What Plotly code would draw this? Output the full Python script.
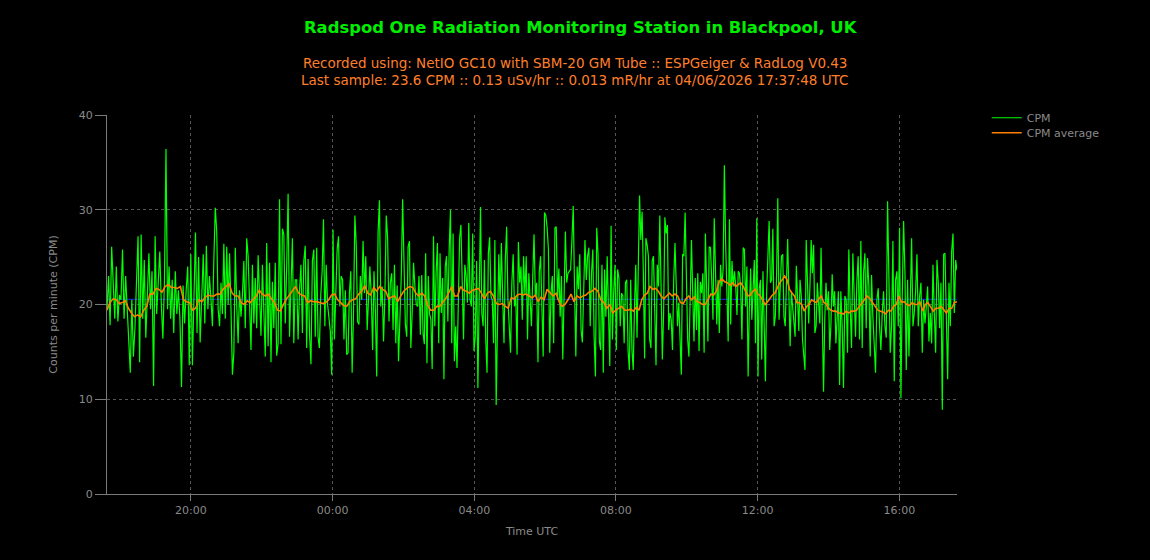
import pandas as pd
import plotly.graph_objects as go

# ---- data ----
block_edges = ["2026-06-03 17:37:48", "2026-06-03 20:34", "2026-06-03 23:33",
               "2026-06-04 02:31", "2026-06-04 05:28", "2026-06-04 08:25",
               "2026-06-04 11:23", "2026-06-04 14:21", "2026-06-04 17:37:48"]

cpm_b1 = [19.5, 23.0, 17.8, 26.1, 22.3, 18.5, 24.0, 18.2, 21.0, 20.5, 25.8, 18.5, 23.0, 19.5, 16.0, 12.8, 20.5, 14.5, 17.5, 22.0, 27.2, 13.9, 27.4, 18.5, 24.7, 16.5, 22.0, 25.4, 19.5, 23.5, 11.4, 27.2, 19.0, 23.0, 25.6, 20.0, 16.4, 22.5, 36.4, 19.5, 24.0, 18.5, 22.6, 17.0, 23.5, 19.0, 21.5, 18.5, 11.3, 22.0, 18.0, 21.5, 24.0, 13.6, 25.3, 13.6, 22.0, 27.6, 17.0, 25.0, 16.0, 21.5, 25.3, 18.0, 26.2, 19.5, 23.0]
cpm_b2 = [20.5, 17.7, 24.8, 30.2, 27.7, 19.5, 17.7, 22.3, 19.0, 26.4, 18.5, 26.1, 20.0, 25.4, 19.5, 12.6, 14.9, 26.0, 20.0, 15.9, 21.5, 18.7, 21.0, 24.6, 17.5, 27.0, 25.1, 18.5, 15.2, 24.2, 18.0, 22.8, 17.5, 25.2, 20.0, 16.7, 24.2, 19.0, 14.5, 26.5, 15.6, 24.4, 13.9, 22.4, 17.5, 24.4, 14.6, 15.9, 31.1, 15.8, 28.0, 27.4, 18.0, 24.0, 31.7, 16.6, 22.0, 27.0, 15.9, 22.6, 22.6, 16.3, 21.5, 24.2, 17.0, 24.6, 26.2, 15.4, 24.8, 16.9, 13.7, 24.6, 25.8, 16.6]
cpm_b3 = [26.0, 16.6, 15.4, 21.0, 23.5, 29.0, 17.7, 24.2, 20.0, 18.2, 17.2, 12.6, 27.9, 16.3, 22.0, 25.8, 27.2, 19.8, 23.0, 22.6, 16.3, 21.5, 14.7, 14.9, 21.2, 23.5, 12.8, 19.1, 29.4, 26.3, 18.2, 17.9, 23.0, 20.5, 26.7, 21.2, 25.1, 17.3, 20.5, 24.0, 21.0, 15.2, 23.5, 19.5, 12.4, 27.6, 31.0, 19.8, 21.9, 16.1, 20.9, 29.4, 27.0, 18.2, 22.3, 23.3, 17.3, 24.2, 15.9, 22.0, 14.0, 18.9, 23.0, 31.1, 24.4, 17.9, 16.6, 26.1, 26.7, 15.4, 19.1, 24.4, 21.9, 20.0, 19.8, 23.0, 16.8]
cpm_b4 = [23.1, 17.0, 15.8, 25.4, 13.8, 23.0, 19.0, 18.4, 13.2, 27.2, 17.7, 23.3, 26.5, 15.9, 25.4, 19.1, 22.8, 12.1, 24.0, 25.1, 18.2, 25.8, 30.0, 15.9, 27.5, 14.0, 17.7, 13.3, 19.8, 27.0, 28.4, 23.0, 16.3, 24.2, 23.0, 20.2, 28.6, 20.5, 19.8, 27.5, 15.1, 16.6, 24.6, 11.2, 22.3, 30.3, 19.1, 17.7, 24.7, 16.3, 12.8, 25.4, 27.1, 20.9, 20.5, 15.9, 26.8, 9.4, 17.7, 25.3, 20.2, 26.5, 20.5, 15.9, 24.7, 28.2, 20.5, 17.7, 14.9, 22.3, 25.3, 19.8, 20.9, 14.7, 26.6, 22.3, 24.0, 18.4, 25.1, 21.0]
cpm_b5 = [25.1, 16.3, 23.3, 20.5, 17.7, 23.0, 27.4, 20.9, 22.3, 13.9, 23.5, 25.1, 20.5, 14.5, 29.7, 29.4, 28.1, 25.8, 14.9, 21.2, 23.0, 15.9, 28.1, 28.2, 20.5, 23.8, 18.7, 23.0, 14.2, 20.9, 27.7, 22.3, 23.3, 23.5, 23.7, 26.8, 30.4, 21.6, 14.5, 24.0, 21.6, 25.3, 17.3, 16.0, 21.6, 26.8, 22.6, 25.1, 26.0, 17.7, 23.3, 25.8, 16.6, 12.4, 28.1, 25.3, 16.1, 15.2, 24.2, 12.8, 23.7, 18.7, 25.1, 18.2, 13.5, 28.3, 16.3, 21.4, 24.2, 15.2, 23.7, 22.8, 17.7, 21.2, 20.9, 15.9, 22.3, 22.6, 15.1, 13.1]
cpm_b6 = [22.6, 15.2, 13.1, 19.8, 24.2, 16.5, 22.3, 31.5, 26.8, 29.8, 23.3, 14.3, 27.0, 26.3, 25.1, 16.3, 15.4, 24.6, 25.1, 17.7, 13.6, 24.2, 21.9, 29.4, 23.0, 14.2, 19.1, 29.2, 27.5, 28.4, 17.3, 19.1, 18.4, 15.2, 22.6, 26.5, 21.9, 17.7, 20.2, 17.0, 12.6, 25.3, 25.1, 29.7, 23.3, 16.3, 14.5, 21.9, 26.8, 21.2, 16.1, 22.8, 17.3, 23.3, 15.1, 22.4, 21.2, 23.3, 14.9, 27.5, 21.6, 16.1, 26.1, 26.0, 22.6, 18.4, 29.1, 24.4, 17.9, 22.6, 17.0, 24.2, 21.9, 23.7, 34.7, 26.5, 19.8, 16.1, 29.0, 17.9, 24.6, 21.9, 23.5]
cpm_b7 = [21.9, 18.9, 23.5, 23.3, 21.6, 16.3, 26.0, 25.8, 19.8, 24.0, 12.4, 19.6, 23.8, 18.4, 22.6, 24.7, 15.9, 29.1, 12.4, 21.7, 22.6, 14.2, 23.5, 18.4, 11.9, 21.4, 24.6, 28.8, 22.3, 22.6, 28.0, 17.7, 18.7, 23.0, 31.2, 18.4, 21.9, 25.1, 25.3, 18.7, 17.7, 23.5, 26.9, 20.9, 15.6, 21.4, 19.8, 18.4, 16.6, 24.1, 19.4, 17.2, 22.6, 20.9, 16.3, 14.5, 13.1, 26.8, 21.6, 18.0, 21.9, 26.8, 23.3, 26.3, 17.0, 17.7, 22.3, 20.2, 18.0, 26.0, 16.3, 10.8, 18.4, 22.3, 19.4, 21.4, 15.2, 17.9, 23.2, 19.8, 21.4, 15.9, 18.4, 21.4, 11.5]
cpm_b8 = [21.4, 17.7, 11.2, 20.9, 20.5, 14.9, 25.8, 19.8, 15.4, 25.4, 21.6, 16.6, 22.4, 25.1, 16.3, 26.7, 15.4, 23.3, 25.4, 17.5, 24.9, 21.9, 14.5, 23.1, 18.7, 14.9, 12.8, 20.5, 21.7, 17.7, 15.2, 19.1, 21.4, 17.7, 16.5, 30.9, 20.5, 14.9, 17.7, 26.7, 11.9, 22.6, 23.5, 17.7, 28.1, 10.1, 20.9, 28.8, 23.5, 13.1, 22.6, 14.5, 20.2, 27.0, 17.7, 19.1, 21.4, 25.3, 17.7, 20.9, 22.3, 14.9, 20.5, 18.0, 19.8, 21.9, 16.1, 19.1, 15.9, 24.2, 19.1, 14.9, 24.7, 22.3, 17.5, 22.3, 8.9, 25.3, 25.4, 16.3, 12.1, 22.3, 17.7, 25.6, 27.5, 19.1, 24.7, 23.6]

avg_b1 = [19.4, 20.2, 20.6, 20.5, 20.1, 20.2, 20.4, 19.6, 19.1, 18.7, 18.9, 18.7, 19.4, 19.8, 21.1, 21.1, 21.7, 21.6, 21.3, 21.9, 22.1, 21.8, 21.8, 21.7, 21.9, 20.5, 20.3, 20.2, 19.4, 19.6, 20.5, 20.3, 20.7, 21.0]
avg_b2 = [20.9, 20.9, 21.1, 21.1, 21.6, 21.9, 22.2, 21.2, 20.9, 20.9, 20.2, 20.0, 20.4, 20.2, 20.6, 20.9, 21.5, 21.1, 20.9, 21.1, 20.6, 20.2, 19.4, 19.3, 20.0, 20.6, 21.0, 21.4, 21.9, 21.2, 21.0, 20.9, 20.2, 20.4, 20.3]
avg_b3 = [20.3, 20.2, 20.1, 20.2, 20.5, 21.0, 21.1, 20.5, 20.2, 19.9, 19.8, 20.3, 20.5, 20.6, 21.1, 21.4, 22.0, 21.2, 21.0, 21.8, 21.4, 21.9, 21.6, 21.4, 20.6, 20.8, 20.9, 20.3, 20.9, 21.4, 21.7, 21.9, 21.8, 21.2, 20.9]
avg_b4 = [21.2, 20.9, 19.9, 19.4, 19.4, 19.8, 19.8, 20.2, 20.6, 21.2, 21.9, 20.9, 20.9, 21.9, 21.5, 21.4, 21.2, 21.5, 21.6, 21.7, 21.2, 20.6, 21.2, 21.4, 20.9, 20.1, 20.0, 20.1, 19.8, 19.6, 20.7, 20.6, 21.0, 21.1, 21.0]
avg_b5 = [21.1, 20.9, 20.7, 21.0, 20.3, 20.8, 20.5, 21.6, 21.3, 20.9, 21.2, 20.3, 19.8, 20.0, 20.5, 21.1, 20.3, 20.9, 20.7, 20.9, 21.0, 21.3, 21.4, 21.7, 21.4, 20.5, 20.2, 19.6, 20.0, 19.1, 19.4, 19.6, 19.8, 19.4, 19.4]
avg_b6 = [19.5, 19.3, 19.7, 19.4, 20.5, 21.0, 21.2, 21.9, 21.6, 21.7, 21.4, 20.9, 20.6, 20.9, 21.2, 20.9, 21.1, 20.9, 20.2, 20.1, 20.6, 20.9, 20.5, 20.8, 20.3, 20.2, 20.0, 20.0, 20.5, 21.1, 21.0, 21.4, 22.4, 22.7, 22.4, 22.3, 22.0, 22.3]
avg_b7 = [21.9, 22.1, 22.3, 21.9, 21.4, 20.9, 21.0, 21.4, 21.6, 21.1, 20.9, 20.5, 20.0, 20.3, 20.7, 21.0, 21.2, 21.7, 22.3, 22.6, 23.0, 22.6, 21.6, 21.2, 20.9, 20.2, 20.2, 20.0, 19.3, 19.8, 20.0, 20.5, 20.3, 20.2, 20.6, 20.9, 20.2, 20.1, 19.6, 19.4, 19.3, 19.3, 19.1]
avg_b8 = [19.1, 19.0, 19.3, 19.1, 19.3, 19.3, 19.4, 19.8, 20.2, 20.6, 20.9, 20.6, 20.2, 19.8, 19.4, 19.3, 19.2, 19.0, 19.4, 19.3, 19.8, 20.0, 20.9, 20.2, 20.3, 20.0, 19.9, 20.2, 20.0, 20.0, 20.3, 19.3, 20.0, 20.2, 19.7, 19.3, 19.6, 19.6, 19.8, 19.4, 19.1, 19.6, 19.6, 20.2, 20.3]

mean_cpm = 20.55

cpm_blocks = [cpm_b1, cpm_b2, cpm_b3, cpm_b4, cpm_b5, cpm_b6, cpm_b7, cpm_b8]
avg_blocks = [avg_b1, avg_b2, avg_b3, avg_b4, avg_b5, avg_b6, avg_b7, avg_b8]

title_text = "Radspod One Radiation Monitoring Station in Blackpool, UK"
sub1 = "Recorded using: NetIO GC10 with SBM-20 GM Tube :: ESPGeiger & RadLog V0.43"
sub2 = "Last sample: 23.6 CPM :: 0.13 uSv/hr :: 0.013 mR/hr at 04/06/2026 17:37:48 UTC"


def build(blocks):
    xs, ys = [], []
    n_blocks = len(blocks)
    for k, vals in enumerate(blocks):
        last = (k == n_blocks - 1)
        t = pd.date_range(block_edges[k], block_edges[k + 1],
                          periods=len(vals) + (0 if last else 1))
        if not last:
            t = t[:-1]
        xs.extend(list(t))
        ys.extend(vals)
    return xs, ys


cx, cy = build(cpm_blocks)
ax, ay = build(avg_blocks)

FONT = "DejaVu Sans"
GRAY = "#8a8a8a"
GRID = "#555555"
AXIS = "#7a7a7a"
PLOT_H = 379.0
PLOT_W = 850.0

fig = go.Figure()
fig.add_trace(go.Scatter(x=cx, y=cy, mode="lines", name="CPM",
                         line=dict(color="#00ff00", width=1.2),
                         legend="legend"))
fig.add_trace(go.Scatter(x=ax, y=ay, mode="lines", name="CPM average",
                         line=dict(color="#ff8000", width=1.6),
                         legend="legend2"))

fig.add_shape(type="line", xref="paper", x0=0, x1=1, yref="y",
              y0=mean_cpm, y1=mean_cpm, line=dict(color="#2020ff", width=1),
              layer="below")

legend_common = dict(xanchor="left", yanchor="top", bgcolor="rgba(0,0,0,0)",
                     font=dict(size=11, color=GRAY), itemwidth=30)

fig.update_layout(
    width=1150, height=560,
    paper_bgcolor="#000000", plot_bgcolor="#000000",
    margin=dict(l=107, r=193, t=115, b=66),
    font=dict(family=FONT, size=11, color=GRAY),
    showlegend=True,
    legend=dict(x=1.035, y=1.031, **legend_common),
    legend2=dict(x=1.035, y=1.031 - 15 / PLOT_H, **legend_common),
    annotations=[
        dict(text="<b>" + title_text + "</b>", xref="paper", yref="paper",
             x=(581 - 107) / PLOT_W, y=1 + (115 - 27) / PLOT_H, xanchor="center",
             yanchor="middle", showarrow=False,
             font=dict(family=FONT, size=16.4, color="#00ee00")),
        dict(text=sub1, xref="paper", yref="paper",
             x=(574.5 - 107) / PLOT_W, y=1 + (115 - 63) / PLOT_H, xanchor="center",
             yanchor="middle", showarrow=False,
             font=dict(family=FONT, size=13.5, color="#ff7f2a")),
        dict(text=sub2, xref="paper", yref="paper",
             x=(574.5 - 107) / PLOT_W, y=1 + (115 - 80) / PLOT_H, xanchor="center",
             yanchor="middle", showarrow=False,
             font=dict(family=FONT, size=13.5, color="#ff7f2a")),
    ],
)

fig.update_xaxes(
    range=[block_edges[0], block_edges[-1]],
    type="date", tickformat="%H:%M", dtick=4 * 3600 * 1000,
    tick0="2026-06-03 20:00",
    showgrid=True, gridcolor=GRID, griddash="3px,3px", gridwidth=1,
    showline=True, linecolor=AXIS, linewidth=1,
    ticks="outside", ticklen=6, tickcolor=AXIS,
    tickfont=dict(size=11, color=GRAY),
    title=dict(text="Time UTC", font=dict(size=11, color=GRAY), standoff=11),
    zeroline=False,
)
fig.update_yaxes(
    range=[0, 40], dtick=10, tick0=0,
    showgrid=True, gridcolor=GRID, griddash="3px,3px", gridwidth=1,
    showline=True, linecolor=AXIS, linewidth=1,
    ticks="outside", ticklen=11, tickcolor=AXIS,
    tickfont=dict(size=11, color=GRAY),
    title=dict(text="Counts per minute (CPM)", font=dict(size=11, color=GRAY),
               standoff=18),
    zeroline=False,
)

fig.write_html("out.html")
